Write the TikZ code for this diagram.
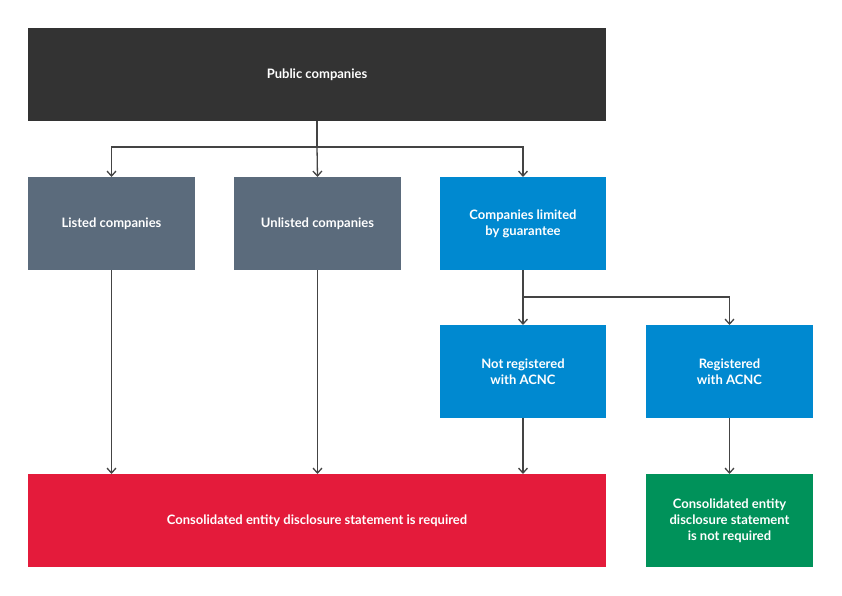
\documentclass[tikz,border=0pt]{standalone}
\usepackage{fontspec}
\setmainfont{Lato}
\usetikzlibrary{arrows.meta}
\definecolor{dark}{HTML}{333333}
\definecolor{slate}{HTML}{5B6B7C}
\definecolor{blu}{HTML}{0089D0}
\definecolor{rd}{HTML}{E41B3B}
\definecolor{grn}{HTML}{00925A}
\definecolor{ln}{HTML}{444444}
\begin{document}
\begin{tikzpicture}[x=1pt,y=-1pt,
 box/.style={draw=none,inner sep=0pt,text=white,font=\fontsize{13}{16}\selectfont\bfseries,align=center},
 con/.style={draw=ln,line width=1.3pt,-{Straight Barb[length=5pt,width=9pt]}}]
\useasboundingbox (0,0) rectangle (842,595);
\newcommand{\bx}[7]{\fill[#6] (#2,#3) rectangle (#4,#5); \node[box] (#1) at ({(#2+#4)/2},{(#3+#5)/2}) {#7};
 \coordinate (#1t) at ({(#2+#4)/2},#3); \coordinate (#1b) at ({(#2+#4)/2},#5);}
\bx{pub}{28}{28}{606}{121}{dark}{Public companies}
\bx{lst}{28}{177}{195}{270}{slate}{Listed companies}
\bx{unl}{234}{177}{401}{270}{slate}{Unlisted companies}
\bx{clg}{440}{177}{606}{270}{blu}{Companies limited\\by guarantee}
\bx{nr}{440}{325}{606}{418}{blu}{Not registered\\with ACNC}
\bx{reg}{646}{325}{813}{418}{blu}{Registered\\with ACNC}
\bx{req}{28}{474}{606}{567}{rd}{Consolidated entity disclosure statement is required}
\bx{nreq}{646}{474}{813}{567}{grn}{Consolidated entity\\disclosure statement\\is not required}
\coordinate (j1) at (317,147);
\draw[draw=ln,line width=1.3pt] (pubb) -- (j1);
\draw[con] (j1) -| (lstt);
\draw[con] (j1) -- (unlt);
\draw[con] (j1) -| (clgt);
\coordinate (j2) at (523,297);
\draw[draw=ln,line width=1.3pt] (clgb) -- (j2);
\draw[con] (j2) -- (nrt);
\draw[con] (j2) -| (regt);
\draw[con] (lstb) -- (lstb |- reqt);
\draw[con] (unlb) -- (unlb |- reqt);
\draw[con] (nrb) -- (nrb |- reqt);
\draw[con] (regb) -- (nreqt);
\end{tikzpicture}
\end{document}
